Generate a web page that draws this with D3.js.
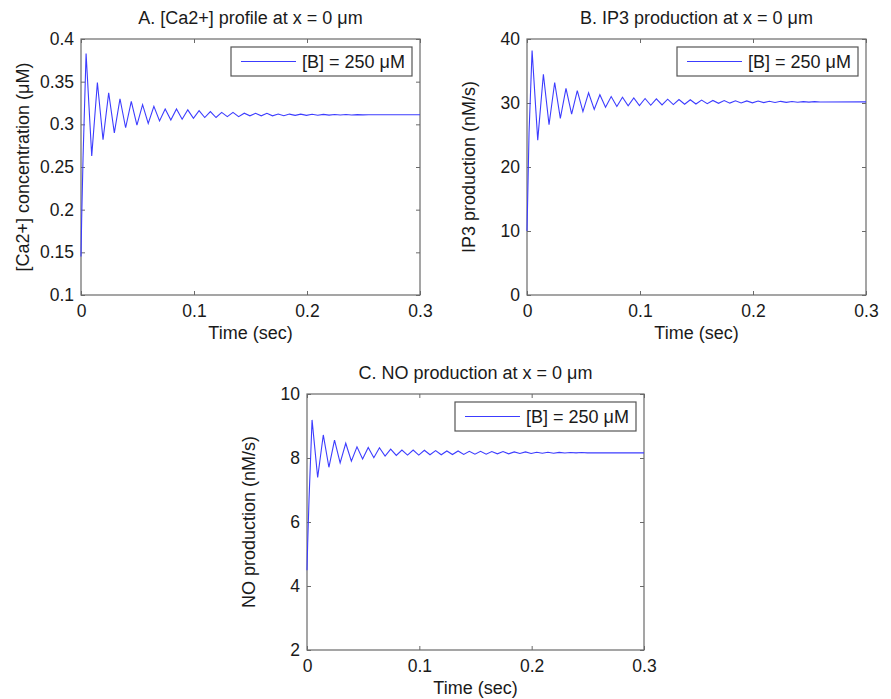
<!DOCTYPE html>
<html>
<head>
<meta charset="utf-8">
<script src="https://cdn.jsdelivr.net/npm/d3@7"></script>
<style>
  body { margin: 0; background: #fff; }
  svg { display: block; font-family: "Liberation Sans", Arial, sans-serif; }
</style>
</head>
<body>
<svg id="chart" width="891" height="699"></svg>
<script>
// shared time points (sec) - peaks / troughs of the damped oscillation
const time = [0, 0.0006, 0.0018, 0.0045,
  0.0095, 0.0145, 0.0195, 0.0245, 0.0295, 0.0345, 0.0395, 0.0445, 0.0495, 0.0545,
  0.0595, 0.0645, 0.0695, 0.0745, 0.0795, 0.0845, 0.0895, 0.0945, 0.0995, 0.1045,
  0.1095, 0.1145, 0.1195, 0.1245, 0.1295, 0.1345, 0.1395, 0.1445, 0.1495, 0.1545,
  0.1595, 0.1645, 0.1695, 0.1745, 0.1795, 0.1845, 0.1895, 0.1945, 0.1995, 0.2045,
  0.2095, 0.2145, 0.2195, 0.2245, 0.2295, 0.2345, 0.2395, 0.2445, 0.2495, 0.2545,
  0.2595, 0.3]

const caValues = [0.145, 0.19, 0.26, 0.383,
  0.263, 0.349, 0.282, 0.337, 0.290, 0.330, 0.296, 0.327, 0.299, 0.323,
  0.301, 0.321, 0.304, 0.318, 0.305, 0.318, 0.306, 0.317, 0.307, 0.316,
  0.308, 0.315, 0.308, 0.314, 0.309, 0.314, 0.309, 0.313, 0.310, 0.313,
  0.310, 0.313, 0.310, 0.312, 0.310, 0.312, 0.3105, 0.312, 0.3105, 0.3118,
  0.3107, 0.3117, 0.3108, 0.3116, 0.3109, 0.3115, 0.311, 0.3114, 0.3111, 0.3113,
  0.3112, 0.3112]

const ip3Values = [10, 15, 25.3, 38.2,
  24.2, 34.5, 26.6, 33.2, 27.6, 32.3, 28.25, 31.95, 28.66, 31.6,
  29.0, 31.3, 29.35, 31.0, 29.45, 30.9, 29.55, 30.8, 29.6, 30.7,
  29.65, 30.65, 29.7, 30.6, 29.75, 30.55, 29.8, 30.5, 29.85, 30.45,
  29.9, 30.4, 29.95, 30.38, 29.98, 30.35, 30.0, 30.32, 30.03, 30.3,
  30.06, 30.28, 30.08, 30.26, 30.1, 30.24, 30.12, 30.22, 30.14, 30.21,
  30.16, 30.18]

const noValues = [4.49, 5.33, 6.7, 9.19,
  7.39, 8.72, 7.71, 8.56, 7.85, 8.46, 7.90, 8.35, 7.97, 8.33,
  8.01, 8.32, 8.06, 8.28, 8.08, 8.25, 8.09, 8.25, 8.09, 8.24,
  8.10, 8.23, 8.10, 8.22, 8.11, 8.22, 8.11, 8.21, 8.12, 8.21,
  8.12, 8.20, 8.13, 8.20, 8.13, 8.19, 8.14, 8.19, 8.14, 8.18,
  8.15, 8.18, 8.15, 8.175, 8.155, 8.17, 8.16, 8.17, 8.16, 8.165,
  8.16, 8.16]

const timeTicks = [0, 0.1, 0.2, 0.3]
const caTicks = [0.1, 0.15, 0.2, 0.25, 0.3, 0.35, 0.4]
const ip3Ticks = [0, 10, 20, 30, 40]
const noTicks = [2, 4, 6, 8, 10]

const legendLabel = '[B] = 250 μM'

const svg = d3.select('#chart')
const fmt = d3.format('~g')
const lineColor = '#3c3cff'

function drawPanel(p) {
    const x = d3.scaleLinear().domain([0, 0.3]).range([p.left, p.right])
    const y = d3.scaleLinear().domain(p.yDomain).range([p.bottom, p.top])
    const g = svg.append('g')
    const tick = 4

    // axes (inward ticks on all four sides, like matlab)
    const bottomAxis = d3.axisBottom(x).tickValues(timeTicks).tickFormat(fmt)
        .tickSizeInner(-tick).tickSizeOuter(0).tickPadding(10)
    const topAxis = d3.axisTop(x).tickValues(timeTicks).tickFormat('')
        .tickSizeInner(-tick).tickSizeOuter(0)
    const leftAxis = d3.axisLeft(y).tickValues(p.yTicks).tickFormat(fmt)
        .tickSizeInner(-tick).tickSizeOuter(0).tickPadding(7)
    const rightAxis = d3.axisRight(y).tickValues(p.yTicks).tickFormat('')
        .tickSizeInner(-tick).tickSizeOuter(0)

    const axes = [
        g.append('g').attr('transform', `translate(0,${p.bottom})`).call(bottomAxis),
        g.append('g').attr('transform', `translate(0,${p.top})`).call(topAxis),
        g.append('g').attr('transform', `translate(${p.left},0)`).call(leftAxis),
        g.append('g').attr('transform', `translate(${p.right},0)`).call(rightAxis)
    ]
    axes.forEach(a => {
        a.select('.domain').remove()
        a.selectAll('.tick line').attr('stroke', '#6a6a6a')
        a.selectAll('.tick text').attr('fill', '#1a1a1a').style('font-size', '17.5px')
    })

    g.append('rect')
        .attr('x', p.left).attr('y', p.top)
        .attr('width', p.right - p.left).attr('height', p.bottom - p.top)
        .attr('fill', 'none').attr('stroke', '#6a6a6a').attr('stroke-width', 1.2)

    const line = d3.line()
        .x((d, i) => x(time[i]))
        .y(d => y(d))

    g.append('path')
        .datum(p.values)
        .attr('d', line)
        .attr('fill', 'none')
        .attr('stroke', lineColor)
        .attr('stroke-width', 1.1)

    // legend
    const lw = 181, lh = 29
    const lx = p.right - 8 - lw, ly = p.top + 8
    g.append('rect')
        .attr('x', lx).attr('y', ly).attr('width', lw).attr('height', lh)
        .attr('fill', '#fff').attr('stroke', '#555').attr('stroke-width', 1.2)
    g.append('line')
        .attr('x1', lx + 10).attr('x2', lx + 65)
        .attr('y1', ly + lh / 2).attr('y2', ly + lh / 2)
        .attr('stroke', lineColor).attr('stroke-width', 1.1)
    g.append('text')
        .attr('x', lx + 71).attr('y', ly + lh / 2)
        .attr('dy', '0.35em')
        .style('font-size', '18px').attr('fill', '#1a1a1a')
        .text(legendLabel)

    // titles
    g.append('text')
        .attr('x', (p.left + p.right) / 2).attr('y', p.top - 21)
        .attr('dy', '0.35em').attr('text-anchor', 'middle')
        .style('font-size', '18px').attr('fill', '#1a1a1a')
        .text(p.title)
    g.append('text')
        .attr('x', (p.left + p.right) / 2).attr('y', p.bottom + 38)
        .attr('dy', '0.35em').attr('text-anchor', 'middle')
        .style('font-size', '18px').attr('fill', '#1a1a1a')
        .text('Time (sec)')
    g.append('text')
        .attr('transform', `translate(${p.left - 58},${(p.top + p.bottom) / 2}) rotate(-90)`)
        .attr('dy', '0.35em').attr('text-anchor', 'middle')
        .style('font-size', '18px').attr('fill', '#1a1a1a')
        .text(p.yLabel)
}

drawPanel({
    left: 81, right: 420, top: 39, bottom: 295,
    yDomain: [0.1, 0.4], yTicks: caTicks, values: caValues,
    title: 'A. [Ca2+] profile at x = 0 μm',
    yLabel: '[Ca2+] concentration (μM)'
})
drawPanel({
    left: 527, right: 866, top: 39, bottom: 295,
    yDomain: [0, 40], yTicks: ip3Ticks, values: ip3Values,
    title: 'B. IP3 production at x = 0 μm',
    yLabel: 'IP3 production (nM/s)'
})
drawPanel({
    left: 307, right: 644, top: 394, bottom: 650,
    yDomain: [2, 10], yTicks: noTicks, values: noValues,
    title: 'C. NO production at x = 0 μm',
    yLabel: 'NO production (nM/s)'
})
</script>
</body>
</html>
